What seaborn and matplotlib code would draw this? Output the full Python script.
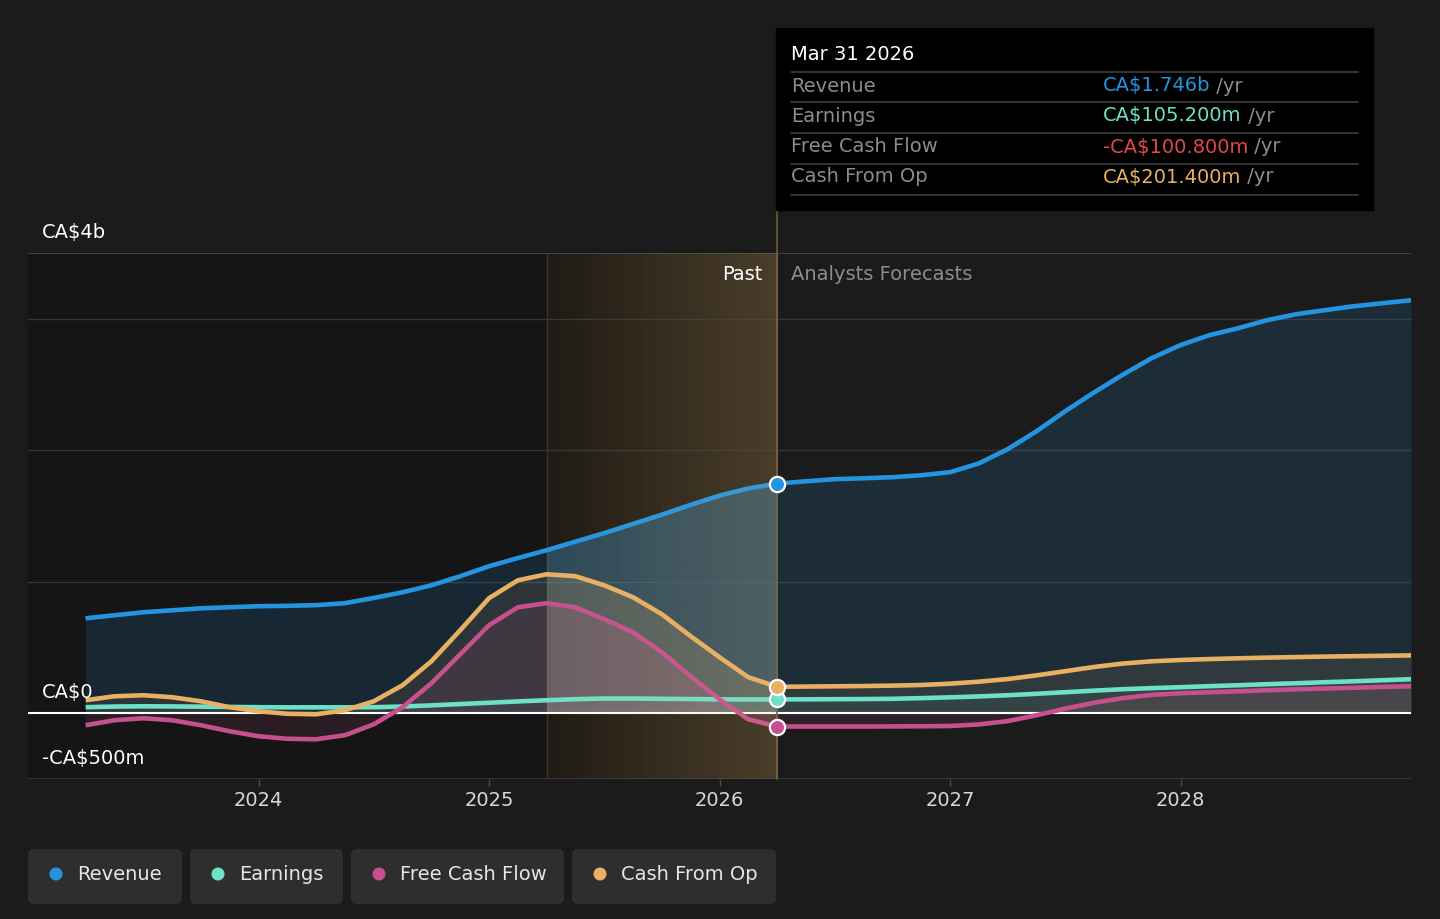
import numpy as np
import pandas as pd
import matplotlib
matplotlib.use('Agg')
import matplotlib.pyplot as plt
from matplotlib.patches import FancyBboxPatch, Rectangle, Circle
from matplotlib.transforms import IdentityTransform
import seaborn as sns

# Data (CA$ billions) every 1/8 year
# past = trailing twelve months, after Mar 2026 = analyst forecasts
years = [2023.25 + 0.125 * i for i in range(47)]
revenue = [0.722, 0.745, 0.768, 0.783, 0.798, 0.806, 0.814, 0.817,
           0.822, 0.837, 0.877, 0.920, 0.973, 1.042, 1.118, 1.180,
           1.240, 1.305, 1.370, 1.440, 1.510, 1.585, 1.655, 1.710,
           1.746, 1.764, 1.780, 1.787, 1.795, 1.810, 1.833, 1.900,
           2.008, 2.144, 2.297, 2.440, 2.575, 2.700, 2.800, 2.875,
           2.928, 2.989, 3.034, 3.065, 3.095, 3.118, 3.141]
earnings = [0.046, 0.051, 0.053, 0.052, 0.050, 0.048, 0.046, 0.045,
            0.045, 0.045, 0.046, 0.051, 0.060, 0.070, 0.080, 0.090,
            0.099, 0.107, 0.112, 0.112, 0.110, 0.108, 0.106, 0.105,
            0.1052, 0.106, 0.107, 0.108, 0.110, 0.115, 0.121, 0.128,
            0.137, 0.148, 0.160, 0.172, 0.183, 0.191, 0.198, 0.206,
            0.213, 0.221, 0.228, 0.236, 0.243, 0.251, 0.259]
free_cash_flow = [-0.091, -0.053, -0.038, -0.053, -0.091, -0.137, -0.175, -0.194,
                  -0.198, -0.167, -0.084, 0.046, 0.228, 0.449, 0.669, 0.806,
                  0.837, 0.806, 0.715, 0.616, 0.464, 0.281, 0.106, -0.046,
                  -0.1008, -0.101, -0.101, -0.101, -0.100, -0.099, -0.097, -0.085,
                  -0.060, -0.015, 0.035, 0.080, 0.115, 0.140, 0.152, 0.160,
                  0.167, 0.175, 0.182, 0.188, 0.194, 0.200, 0.205]
cash_from_op = [0.099, 0.129, 0.137, 0.122, 0.091, 0.046, 0.015, -0.004,
                -0.008, 0.023, 0.091, 0.213, 0.395, 0.631, 0.875, 1.011,
                1.057, 1.042, 0.973, 0.882, 0.753, 0.586, 0.426, 0.274,
                0.2014, 0.203, 0.205, 0.207, 0.210, 0.215, 0.225, 0.240,
                0.260, 0.288, 0.320, 0.352, 0.378, 0.395, 0.405, 0.412,
                0.418, 0.423, 0.427, 0.431, 0.434, 0.437, 0.440]

metrics = ['Revenue', 'Earnings', 'Free Cash Flow', 'Cash From Op']
colors = {'Revenue': '#2394df', 'Earnings': '#6ee0c8',
          'Free Cash Flow': '#c6508e', 'Cash From Op': '#e8b062'}
series = {'Revenue': revenue, 'Earnings': earnings,
          'Free Cash Flow': free_cash_flow, 'Cash From Op': cash_from_op}
x_ticks = [2024, 2025, 2026, 2027, 2028]
past_start, now = 2025.25, 2026.25

df = pd.concat([pd.DataFrame({'year': years, 'value': v, 'metric': k})
                for k, v in series.items()], ignore_index=True)

W, H = 1440, 919
BG = '#1b1b1b'
FS = 14

sns.set_theme(style='dark')
plt.rcParams['font.family'] = ['DejaVu Sans']
plt.rcParams['text.parse_math'] = False

fig = plt.figure(figsize=(W / 100, H / 100), dpi=100, facecolor=BG)
ax = fig.add_axes([28 / W, 1 - 779 / H, (1411 - 28) / W, (779 - 253) / H])
ax.set_facecolor(BG)
ax.set_xlim(2023.0, 2029.0)
ax.set_ylim(-0.5, 3.5)

# past background and highlighted last year
ax.axvspan(2023.0, past_start, color='#151515', zorder=0, lw=0)
grad = np.linspace(0, 1, 256)
c0, c1 = np.array([28, 24, 18]), np.array([54, 43, 27])
band = (c0[None, :] + grad[:, None] * (c1 - c0)[None, :]) / 255
ax.imshow(band[None, :, :], extent=[past_start, now, -0.5, 3.5],
          aspect='auto', zorder=0.5, interpolation='bilinear')
ax.axvline(past_start, color='#3a3328', lw=1, zorder=0.6)
ax.axvline(now, ymin=0, ymax=(779 - 210) / (779 - 253), color='#6b5a3a',
           lw=1.2, zorder=3, clip_on=False)

# grid
for g in [1, 2, 3]:
    ax.axhline(g, color='#353535', lw=1, zorder=1)
ax.axhline(3.5, color='#4a4a4a', lw=1.2, zorder=1)
ax.axhline(-0.5, color='#3c3c3c', lw=1.2, zorder=1)

# area fills
yrs = np.array(years)
in_band = (yrs >= past_start - 1e-9) & (yrs <= now + 1e-9)
fill_alpha = {'Revenue': 0.15, 'Earnings': 0.06,
              'Free Cash Flow': 0.12, 'Cash From Op': 0.10}
for k in metrics:
    ax.fill_between(years, series[k], 0, color=colors[k], alpha=fill_alpha[k],
                    lw=0, zorder=2)
    ax.fill_between(years, series[k], 0, where=in_band, color=colors[k],
                    alpha=fill_alpha[k] * 1.1, lw=0, zorder=2)
ax.fill_between(years, revenue, 0, where=in_band, color='#a8b8b8',
                alpha=0.10, lw=0, zorder=2)

ax.axhline(0, color='white', lw=1.5, zorder=2.5)

sns.lineplot(data=df, x='year', y='value', hue='metric', hue_order=metrics,
             palette=colors, linewidth=3.3, legend=False, ax=ax, zorder=5,
             solid_joinstyle='round', solid_capstyle='butt')

# soft veil over the highlighted year, stronger towards "now"
veil = np.zeros((1, 256, 4))
veil[..., :3] = np.array([216, 188, 144]) / 255
veil[..., 3] = np.linspace(0.02, 0.13, 256)
ax.imshow(veil, extent=[past_start, now, -0.5, 3.5], aspect='auto',
          zorder=5.5, interpolation='bilinear')

i_now = int(np.argmin(np.abs(yrs - now)))
for k in metrics:
    ax.scatter([now], [series[k][i_now]], s=120, color=colors[k],
               edgecolor='white', linewidth=1.6, zorder=6)

for s in ax.spines.values():
    s.set_visible(False)
ax.set_xlim(2023.0, 2029.0)
ax.set_ylim(-0.5, 3.5)
ax.set_xticks(x_ticks)
ax.set_xticklabels([str(t) for t in x_ticks])
ax.set_yticks([])
ax.tick_params(axis='x', colors='#4a4a4a', labelcolor='#d8d8d8', length=5,
               width=1, labelsize=FS, pad=4, bottom=True)
ax.set_xlabel('')
ax.set_ylabel('')
ax.grid(False)

# y labels
for val, lab in [(3.5, 'CA$4b'), (0, 'CA$0'), (-0.5, '-CA$500m')]:
    ax.annotate(lab, xy=(0, val), xycoords=('axes fraction', 'data'),
                xytext=(10, 15), textcoords='offset points', ha='left',
                va='center', color='white', fontsize=FS, zorder=7)

fig.text(762 / W, 1 - 274 / H, 'Past', ha='right', va='center',
         color='white', fontsize=FS)
fig.text(791 / W, 1 - 274 / H, 'Analysts Forecasts', ha='left', va='center',
         color='#8c8c8c', fontsize=FS)

# tooltip
fig.patches.append(Rectangle((776 / W, 1 - 210 / H), (1373 - 776) / W,
                             (210 - 28) / H, transform=fig.transFigure,
                             color='black', zorder=10))
fig.text(791 / W, 1 - 55 / H, 'Mar 31 2026', ha='left', va='center',
         color='white', fontsize=FS, zorder=11)
for yy in [72, 102, 133, 164, 195]:
    fig.lines.append(plt.Line2D([791 / W, 1358 / W], [1 - yy / H, 1 - yy / H],
                                transform=fig.transFigure, color='#3e3e3e',
                                lw=1.2, zorder=11))


def money(v, unit):
    sign = '-' if v < 0 else ''
    if unit == 'b':
        return f'{sign}CA${abs(v):.3f}b'
    return f'{sign}CA${abs(v) * 1000:.3f}m'


tip_rows = [('Revenue', money(revenue[i_now], 'b'), '#2394df'),
            ('Earnings', money(earnings[i_now], 'm'), '#6ee0c8'),
            ('Free Cash Flow', money(free_cash_flow[i_now], 'm'), '#e24848'),
            ('Cash From Op', money(cash_from_op[i_now], 'm'), '#e8b062')]
for (lab, val, col), yy in zip(tip_rows, [86, 116, 147, 177]):
    fig.text(791 / W, 1 - yy / H, lab, ha='left', va='center',
             color='#8c8c8c', fontsize=FS, zorder=11)
    t = fig.text(1103 / W, 1 - yy / H, val, ha='left', va='center',
                 color=col, fontsize=FS, zorder=11)
    fig.texts.append(matplotlib.text.Annotation(
        ' /yr', xy=(1, 0.5), xycoords=t, va='center', ha='left',
        color='#8c8c8c', fontsize=FS, zorder=11))
    fig.texts[-1].set_figure(fig)

# legend buttons (pixel coords)
legend_boxes = [(28, 182), (190, 343), (351, 564), (572, 776)]
for (x0, x1), k in zip(legend_boxes, metrics):
    fig.patches.append(FancyBboxPatch(
        (x0, H - 904), x1 - x0, 55, boxstyle='round,pad=0,rounding_size=6',
        transform=IdentityTransform(), facecolor='#2e2e2e', edgecolor='none'))
    fig.patches.append(Circle((x0 + 28, H - 874), 6.5,
                              transform=IdentityTransform(),
                              facecolor=colors[k], edgecolor='none'))
    fig.text((x0 + 49) / W, 1 - 874 / H, k, ha='left', va='center',
             color='#e6e6e6', fontsize=FS)

fig.savefig('out.png', dpi=100, facecolor=BG)
